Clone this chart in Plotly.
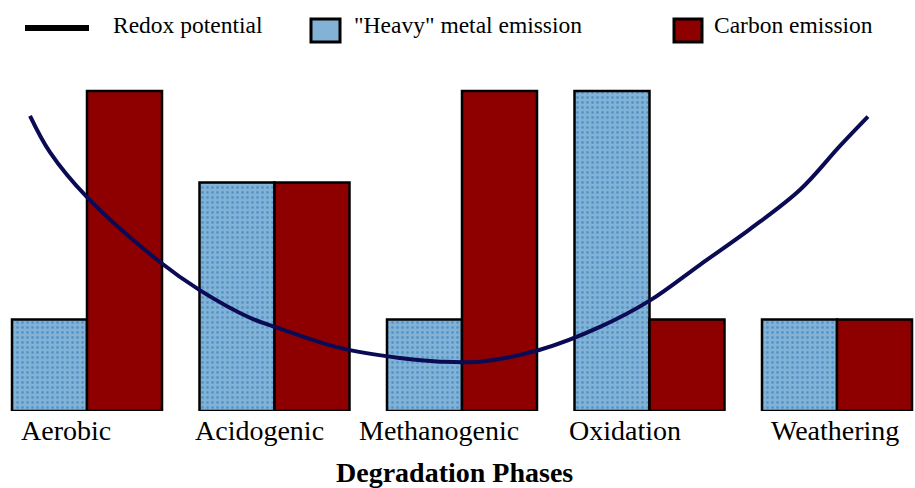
import plotly.graph_objects as go

phases = ["Aerobic", "Acidogenic", "Methanogenic", "Oxidation", "Weathering"]
heavy_metal = [1.0, 2.5, 1.0, 3.5, 1.0]
carbon = [3.5, 2.5, 3.5, 1.0, 1.0]

# Redox potential curve (x in phase-index units, y in relative units)
redox_x = [-0.304, -0.197, 0.0, 0.389, 0.603, 0.869, 1.003, 1.349, 1.669, 1.883,
           2.096, 2.416, 2.736, 3.003, 3.269, 3.536, 3.803, 4.016, 4.165]
redox_y = [3.23, 2.83, 2.34, 1.63, 1.32, 1.02, 0.92, 0.69, 0.58, 0.54,
           0.54, 0.67, 0.92, 1.21, 1.60, 1.99, 2.42, 2.90, 3.22]

SERIF = "Liberation Serif, Times New Roman, serif"
RED = "#8e0000"
BLUE = "#82b3d7"
NAVY = "#0b0b55"

W, H = 915, 488
T, B = 60, 77
PLOT_H = H - T - B
LABEL_SHIFT = [-21, -15, -23, -25, -2]  # px offsets of phase labels

idx = list(range(len(phases)))

fig = go.Figure()
fig.add_trace(go.Bar(
    x=idx, y=heavy_metal, name='"Heavy" metal emission',
    marker=dict(color=BLUE, line=dict(color="black", width=2.5),
                pattern=dict(shape=".", fgcolor="#2a78b8", bgcolor=BLUE,
                             size=5, solidity=0.25)),
    showlegend=False, hoverinfo="skip",
))
fig.add_trace(go.Bar(
    x=idx, y=carbon, name="Carbon emission",
    marker=dict(color=RED, line=dict(color="black", width=2.5)),
    showlegend=False, hoverinfo="skip",
))
fig.add_trace(go.Scatter(
    x=redox_x, y=redox_y, mode="lines", name="Redox potential",
    line=dict(color=NAVY, width=4, shape="spline"),
    showlegend=False, hoverinfo="skip",
))

# Manual legend (paper coords relative to plot area)
def px(xp): return xp / W
def py(yp): return (H - B - yp) / PLOT_H

shapes = [
    dict(type="line", xref="paper", yref="paper",
         x0=px(25), x1=px(89), y0=py(28), y1=py(28),
         line=dict(color="black", width=6)),
    dict(type="rect", xref="paper", yref="paper",
         x0=px(311), x1=px(340), y0=py(42), y1=py(19),
         fillcolor=BLUE, line=dict(color="black", width=3)),
    dict(type="rect", xref="paper", yref="paper",
         x0=px(674), x1=px(702), y0=py(42), y1=py(19),
         fillcolor=RED, line=dict(color="black", width=3)),
]
legend_text = [("Redox potential", 111), ('"Heavy" metal emission', 352), ("Carbon emission", 712)]
annotations = [
    dict(text=t, x=px(x0), y=py(25), xref="paper", yref="paper",
         xanchor="left", yanchor="middle", showarrow=False,
         font=dict(family=SERIF, size=23.5, color="black"))
    for t, x0 in legend_text
]
for i, (name, sh) in enumerate(zip(phases, LABEL_SHIFT)):
    annotations.append(dict(
        text=name, x=i, y=py(430), xref="x", yref="paper", xshift=sh,
        xanchor="center", yanchor="middle", showarrow=False,
        font=dict(family=SERIF, size=28, color="black")))
annotations.append(dict(
    text="<b>Degradation Phases</b>", x=px(454), y=py(472), xref="paper", yref="paper",
    xanchor="center", yanchor="middle", showarrow=False,
    font=dict(family=SERIF, size=28, color="black")))

fig.update_layout(
    width=W, height=H,
    margin=dict(l=0, r=0, t=T, b=B),
    plot_bgcolor="white", paper_bgcolor="white",
    barmode="group", bargap=0.2, bargroupgap=0,
    shapes=shapes, annotations=annotations,
    hovermode=False,
    xaxis=dict(range=[-0.464, 4.416], showticklabels=False, ticks="",
               showgrid=False, zeroline=False, showline=False),
    yaxis=dict(range=[0, PLOT_H / 91.4], visible=False, showgrid=False, zeroline=False),
)

fig.write_html("out.html", config={"displayModeBar": False},
               post_script="document.body.style.margin='0';")
